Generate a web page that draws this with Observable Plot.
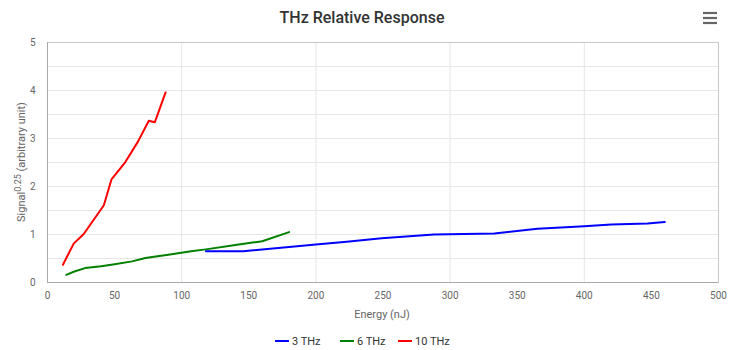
<!DOCTYPE html>
<html><head><meta charset="utf-8">
<script src="https://cdn.jsdelivr.net/npm/d3@7"></script>
<script src="https://cdn.jsdelivr.net/npm/@observablehq/plot@0.6"></script>
<style>body{margin:0;background:#fff;font-family:Roboto,"Open Sans",sans-serif}</style>
</head><body><div id="chart"></div>
<script>
const seriesNames = ["3 THz", "6 THz", "10 THz"];
const seriesColors = ["#0000ff", "#008000", "#ff0000"];
const energy3 = [118, 146, 180, 200, 223, 249, 288, 333, 365, 400, 420, 447, 460];
const signal3 = [0.65, 0.65, 0.74, 0.79, 0.85, 0.92, 1.00, 1.02, 1.12, 1.17, 1.21, 1.23, 1.26];
const energy6 = [14, 20, 28, 40, 50, 63, 73, 90, 107, 118, 140, 160, 180];
const signal6 = [0.16, 0.23, 0.30, 0.34, 0.38, 0.44, 0.51, 0.58, 0.65, 0.69, 0.78, 0.86, 1.05];
const energy10 = [11.5, 19.5, 27, 42, 47.7, 58, 67.3, 75.5, 80, 88];
const signal10 = [0.37, 0.81, 1.01, 1.61, 2.15, 2.51, 2.93, 3.37, 3.34, 3.96];
const xTicks = [0, 50, 100, 150, 200, 250, 300, 350, 400, 450, 500];
const yTicks = [0, 1, 2, 3, 4, 5];
const yGrid = [0.5, 1, 1.5, 2, 2.5, 3, 3.5, 4, 4.5];
const xGrid = [100, 200, 300, 400];

const data = [];
[[energy3, signal3], [energy6, signal6], [energy10, signal10]].forEach(([xs, ys], i) => {
  xs.forEach((x, j) => data.push({series: seriesNames[i], energy: x, signal: ys[j]}));
});

const W = 740, H = 350;
const plot = Plot.plot({
  width: W, height: H,
  marginTop: 42, marginRight: 22, marginBottom: 68, marginLeft: 47,
  style: {fontFamily: "Roboto, sans-serif", fontSize: "10px", color: "#666", background: "#fff"},
  x: {domain: [0, 500], ticks: xTicks, tickFormat: d => String(d), tickSize: 0, tickPadding: 9, label: null},
  y: {domain: [0, 5], ticks: yTicks, tickFormat: d => String(d), tickSize: 0, tickPadding: 12, label: null},
  color: {domain: seriesNames, range: seriesColors},
  marks: [
    Plot.gridY(yGrid, {stroke: "#e6e6e6", strokeOpacity: 1, strokeWidth: 1}),
    Plot.gridX(xGrid, {stroke: "#e6e6e6", strokeOpacity: 1, strokeWidth: 1}),
    Plot.frame({stroke: "#c8c8c8", strokeWidth: 1}),
    Plot.ruleX([0], {stroke: "#aaaaaa"}),
    Plot.ruleY([0], {stroke: "#aaaaaa"}),
    Plot.line(data, {x: "energy", y: "signal", z: "series", stroke: "series", strokeWidth: 2, curve: "linear"})
  ]
});
document.getElementById("chart").appendChild(plot);

const svg = d3.select(plot);
svg.append("text").attr("x", 362).attr("y", 23).attr("text-anchor", "middle")
  .attr("font-size", "16px").attr("font-weight", "500").attr("fill", "#333")
  .attr("font-family", "Roboto, sans-serif").text("THz Relative Response");
// menu icon
[13, 18, 23].forEach(y => svg.append("line").attr("x1", 703).attr("x2", 717).attr("y1", y).attr("y2", y)
  .attr("stroke", "#666").attr("stroke-width", 2.2));
// y axis label
const yl = svg.append("text").attr("transform", "translate(25,162) rotate(-90)")
  .attr("text-anchor", "middle").attr("font-size", "11px").attr("fill", "#666");
yl.append("tspan").text("Signal");
yl.append("tspan").attr("dy", "-4").attr("font-size", "9px").text("0.25");
yl.append("tspan").attr("dy", "4").text(" (arbitrary unit)");
// x axis label
svg.append("text").attr("x", 382).attr("y", 318).attr("text-anchor", "middle")
  .attr("font-size", "11px").attr("fill", "#666").text("Energy (nJ)");
// legend
const legX = [275, 340, 398];
seriesNames.forEach((name, i) => {
  const g = svg.append("g");
  g.append("line").attr("x1", legX[i]).attr("x2", legX[i] + 14).attr("y1", 341).attr("y2", 341)
    .attr("stroke", seriesColors[i]).attr("stroke-width", 2);
  g.append("text").attr("x", legX[i] + 17).attr("y", 345).attr("font-size", "11px")
    .attr("text-anchor", "start").attr("fill", "#333").text(name);
});
</script></body></html>
